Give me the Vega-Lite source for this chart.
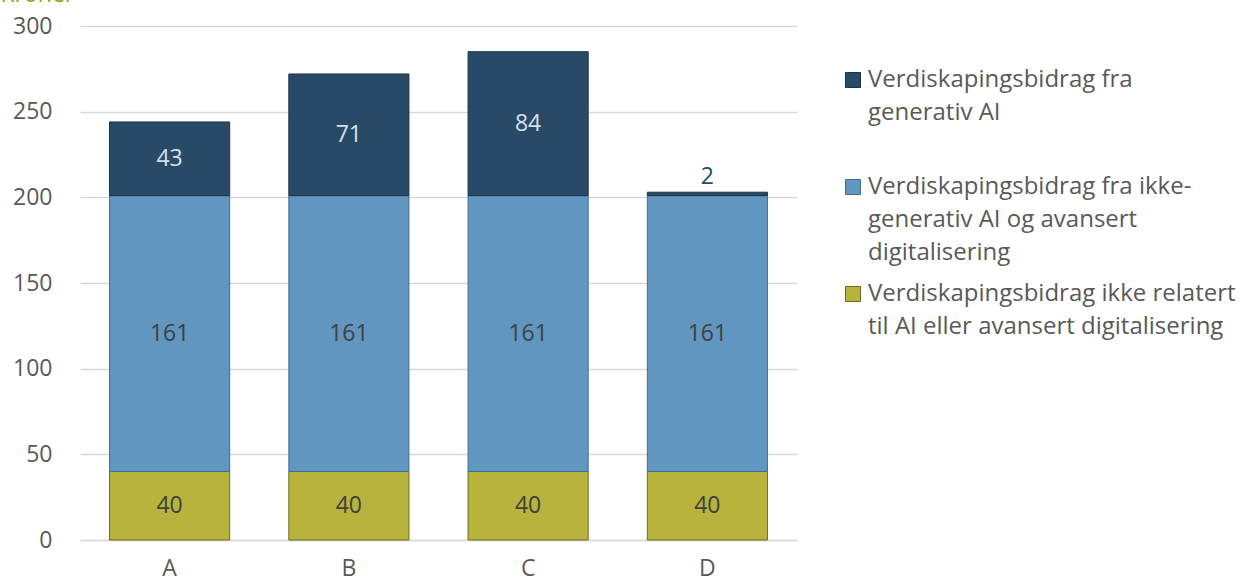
{
  "$schema": "https://vega.github.io/schema/vega-lite/v6.json",
  "autosize": {"type": "none"},
  "width": 717,
  "height": 514,
  "padding": {"left": 80, "top": 26, "right": 447, "bottom": 43},
  "background": "white",
  "config": {
    "view": {"stroke": null},
    "font": "Open Sans",
    "style": {"guide-label": {"lineHeight": 33}}
  },
  "data": {
    "values": [
      {"kategori": "A", "serie": "Verdiskapingsbidrag ikke relatert til AI eller avansert digitalisering", "verdi": 40},
      {"kategori": "A", "serie": "Verdiskapingsbidrag fra ikke-generativ AI og avansert digitalisering", "verdi": 161},
      {"kategori": "A", "serie": "Verdiskapingsbidrag fra generativ AI", "verdi": 43},
      {"kategori": "B", "serie": "Verdiskapingsbidrag ikke relatert til AI eller avansert digitalisering", "verdi": 40},
      {"kategori": "B", "serie": "Verdiskapingsbidrag fra ikke-generativ AI og avansert digitalisering", "verdi": 161},
      {"kategori": "B", "serie": "Verdiskapingsbidrag fra generativ AI", "verdi": 71},
      {"kategori": "C", "serie": "Verdiskapingsbidrag ikke relatert til AI eller avansert digitalisering", "verdi": 40},
      {"kategori": "C", "serie": "Verdiskapingsbidrag fra ikke-generativ AI og avansert digitalisering", "verdi": 161},
      {"kategori": "C", "serie": "Verdiskapingsbidrag fra generativ AI", "verdi": 84},
      {"kategori": "D", "serie": "Verdiskapingsbidrag ikke relatert til AI eller avansert digitalisering", "verdi": 40},
      {"kategori": "D", "serie": "Verdiskapingsbidrag fra ikke-generativ AI og avansert digitalisering", "verdi": 161},
      {"kategori": "D", "serie": "Verdiskapingsbidrag fra generativ AI", "verdi": 2}
    ]
  },
  "transform": [
    {"calculate": "indexof(['Verdiskapingsbidrag fra generativ AI','Verdiskapingsbidrag fra ikke-generativ AI og avansert digitalisering','Verdiskapingsbidrag ikke relatert til AI eller avansert digitalisering'], datum.serie)", "as": "k"},
    {"stack": "verdi", "groupby": ["kategori"], "sort": [{"field": "k", "order": "descending"}], "as": ["y0", "y1"]},
    {"calculate": "(datum.y0 + datum.y1) / 2", "as": "ymid"}
  ],
  "encoding": {
    "x": {
      "field": "kategori",
      "type": "nominal",
      "scale": {"paddingInner": 0.33, "paddingOuter": 0.165},
      "axis": {
        "title": null,
        "labelAngle": 0,
        "labelFontSize": 23,
        "labelColor": "#595959",
        "labelPadding": 17,
        "ticks": false,
        "domainColor": "#D9D9D9",
        "domainWidth": 1.5
      }
    }
  },
  "layer": [
    {
      "mark": {"type": "bar", "strokeWidth": 1},
      "encoding": {
        "y": {
          "field": "y0",
          "type": "quantitative",
          "scale": {"domain": [0, 300], "nice": false},
          "axis": {
            "title": "Kroner",
            "titleAngle": 0,
            "titleAlign": "left",
            "titleBaseline": "alphabetic",
            "titleX": -80,
            "titleY": -25,
            "titleColor": "#9C9C1C",
            "titleFontSize": 23,
            "titleFontWeight": "normal",
            "values": [0, 50, 100, 150, 200, 250, 300],
            "labelFontSize": 23,
            "labelColor": "#595959",
            "labelPadding": 28,
            "domain": false,
            "ticks": false,
            "gridColor": "#D9D9D9",
            "gridWidth": 1.5
          }
        },
        "y2": {"field": "y1"},
        "fill": {
          "field": "serie",
          "type": "nominal",
          "scale": {
            "domain": ["Verdiskapingsbidrag fra generativ AI", "Verdiskapingsbidrag fra ikke-generativ AI og avansert digitalisering", "Verdiskapingsbidrag ikke relatert til AI eller avansert digitalisering"],
            "range": ["#284A66", "#6196C1", "#B7B33C"]
          },
          "legend": {
            "title": null,
            "orient": "none",
            "legendX": 761,
            "legendY": 42,
            "symbolType": "square",
            "symbolSize": 225,
            "symbolStrokeWidth": 1,
            "labelFontSize": 24,
            "labelColor": "#595959",
            "labelLimit": 600,
            "labelOffset": 3,
            "labelBaseline": "middle",
            "rowPadding": 17,
            "labelExpr": "datum.label == 'Verdiskapingsbidrag fra generativ AI' ? ['Verdiskapingsbidrag fra', 'generativ AI', ' '] : datum.label == 'Verdiskapingsbidrag fra ikke-generativ AI og avansert digitalisering' ? ['Verdiskapingsbidrag fra ikke-', 'generativ AI og avansert', 'digitalisering'] : ['Verdiskapingsbidrag ikke relatert', 'til AI eller avansert digitalisering']"
          }
        },
        "stroke": {
          "field": "serie",
          "type": "nominal",
          "scale": {
            "domain": ["Verdiskapingsbidrag fra generativ AI", "Verdiskapingsbidrag fra ikke-generativ AI og avansert digitalisering", "Verdiskapingsbidrag ikke relatert til AI eller avansert digitalisering"],
            "range": ["#1C3347", "#3F6E96", "#6E6B1E"]
          },
          "legend": null
        }
      }
    },
    {
      "transform": [{"filter": "datum.verdi >= 10"}],
      "mark": {"type": "text", "fontSize": 23, "baseline": "middle"},
      "encoding": {
        "y": {"field": "ymid", "type": "quantitative"},
        "text": {"field": "verdi", "type": "quantitative"},
        "color": {"condition": {"test": "datum.k == 0", "value": "#D6E1EC"}, "value": "#404040"}
      }
    },
    {
      "transform": [{"filter": "datum.verdi < 10"}],
      "mark": {"type": "text", "fontSize": 23, "baseline": "bottom", "dy": -3},
      "encoding": {
        "y": {"field": "y1", "type": "quantitative"},
        "text": {"field": "verdi", "type": "quantitative"},
        "color": {"value": "#284A66"}
      }
    }
  ]
}
